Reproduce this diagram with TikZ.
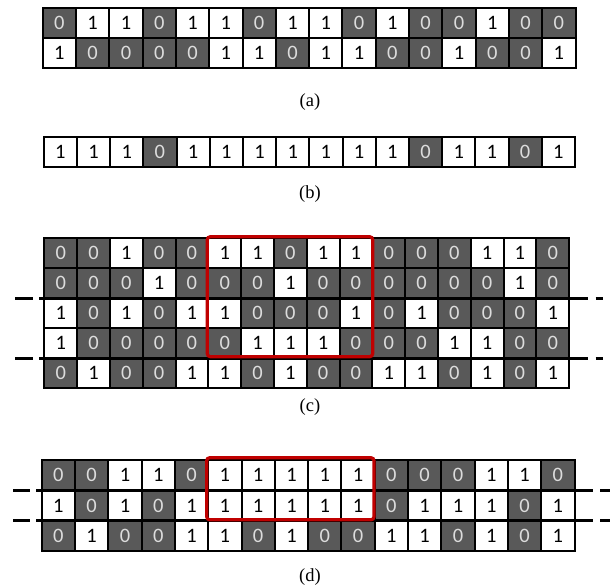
\documentclass[tikz,border=0pt]{standalone}
\usepackage{fontspec}
\setmainfont{Liberation Serif}
\newfontfamily\cellfont{Carlito}
\usepackage{xcolor}
\usetikzlibrary{calc, positioning}

\definecolor{cellgray}{HTML}{595959}
\definecolor{celltext}{HTML}{DCDCDC}
\definecolor{boxred}{HTML}{C00000}

\tikzset{
    cell/.style={draw=black, line width=2pt, inner sep=0pt, outer sep=0pt,
        minimum width=33.3pt, minimum height=29.8pt,
        font=\cellfont\fontsize{20.5}{20.5}\selectfont},
    bit0/.style={cell, fill=cellgray, text=celltext},
    bit1/.style={cell, fill=white, text=black},
    sepline/.style={line width=2.8pt, black},
    redbox/.style={draw=boxred, line width=3.2pt, rounded corners=3pt},
    caption/.style={font=\fontsize{18.5}{18.5}\selectfont, inner sep=0pt}
}

\begin{document}
\begin{tikzpicture}[x=1pt, y=-1pt]
    \useasboundingbox (0,0) rectangle (610,586);

    % Hình (a): hai hàng bit
    \foreach \b [count=\i] in {0,1,1,0,1,1,0,1,1,0,1,0,0,1,0,0}
        \node[bit\b] (a1-\i) at ({42.7+(\i-0.5)*33.3}, 23.15) {\b};
    \foreach \b [count=\i] in {1,0,0,0,0,1,1,0,1,1,0,0,1,0,0,1}
        \node[bit\b] (a2-\i) at ({42.7+(\i-0.5)*33.3}, 52.95) {\b};
    \node[caption] (capa) at (310,102) {(a)};

    % Hình (b): một hàng bit
    \begin{scope}[cell/.append style={minimum width=33.2pt, minimum height=30pt}]
        \foreach \b [count=\i] in {1,1,1,0,1,1,1,1,1,1,1,0,1,1,0,1}
            \node[bit\b] (b1-\i) at ({43.7+(\i-0.5)*33.2}, 151.7) {\b};
    \end{scope}
    \node[caption] (capb) at (310,194) {(b)};

    % Hình (c): năm hàng bit
    \begin{scope}[cell/.append style={minimum width=32.8pt, minimum height=30pt}]
        \foreach \b [count=\i] in {0,0,1,0,0,1,1,0,1,1,0,0,0,1,1,0}
            \node[bit\b] (c1-\i) at ({44.3+(\i-0.5)*32.8}, 253.3) {\b};
        \foreach \b [count=\i] in {0,0,0,1,0,0,0,1,0,0,0,0,0,0,1,0}
            \node[bit\b] (c2-\i) at ({44.3+(\i-0.5)*32.8}, 283.3) {\b};
        \foreach \b [count=\i] in {1,0,1,0,1,1,0,0,0,1,0,1,0,0,0,1}
            \node[bit\b] (c3-\i) at ({44.3+(\i-0.5)*32.8}, 313.3) {\b};
        \foreach \b [count=\i] in {1,0,0,0,0,0,1,1,1,0,0,0,1,1,0,0}
            \node[bit\b] (c4-\i) at ({44.3+(\i-0.5)*32.8}, 343.3) {\b};
        \foreach \b [count=\i] in {0,1,0,0,1,1,0,1,0,0,1,1,0,1,0,1}
            \node[bit\b] (c5-\i) at ({44.3+(\i-0.5)*32.8}, 373.3) {\b};
    \end{scope}
    % Đường phân cách
    \foreach \r in {2,4} {
        \draw[sepline] ([xshift=-5.3pt]c\r-1.south west) -- ([xshift=18.5pt]c\r-16.south east);
        \draw[sepline] ([xshift=-29.3pt]c\r-1.south west) -- ([xshift=-11.3pt]c\r-1.south west);
        \draw[sepline] ([xshift=26.5pt]c\r-16.south east) -- ([xshift=33.5pt]c\r-16.south east);
    }
    \draw[redbox] ([shift={(-1,-1.6)}]c1-6.north west) rectangle ([shift={(0.4,-1.6)}]c4-10.south east);
    \node[caption] (capc) at (310,407) {(c)};

    % Hình (d): ba hàng bit
    \begin{scope}[cell/.append style={minimum width=33.3pt, minimum height=30.4pt}]
        \foreach \b [count=\i] in {0,0,1,1,0,1,1,1,1,1,0,0,0,1,1,0}
            \node[bit\b] (d1-\i) at ({41.7+(\i-0.5)*33.3}, 475.2) {\b};
        \foreach \b [count=\i] in {1,0,1,0,1,1,1,1,1,1,0,1,1,1,0,1}
            \node[bit\b] (d2-\i) at ({41.7+(\i-0.5)*33.3}, 505.6) {\b};
        \foreach \b [count=\i] in {0,1,0,0,1,1,0,1,0,0,1,1,0,1,0,1}
            \node[bit\b] (d3-\i) at ({41.7+(\i-0.5)*33.3}, 536.0) {\b};
    \end{scope}
    % Đường phân cách
    \foreach \r in {1,2} {
        \draw[sepline] ([xshift=-5.7pt]d\r-1.south west) -- ([xshift=18.5pt]d\r-16.south east);
        \draw[sepline] ([xshift=-28.7pt]d\r-1.south west) -- ([xshift=-11.7pt]d\r-1.south west);
        \draw[sepline] ([xshift=25.5pt]d\r-16.south east) -- ([xshift=35.5pt]d\r-16.south east);
    }
    \draw[redbox] ([shift={(-1.5,-2.3)}]d1-6.north west) rectangle ([shift={(-0.7,-1)}]d2-10.south east);
    \node[caption] (capd) at (310,577) {(d)};
\end{tikzpicture}
\end{document}
